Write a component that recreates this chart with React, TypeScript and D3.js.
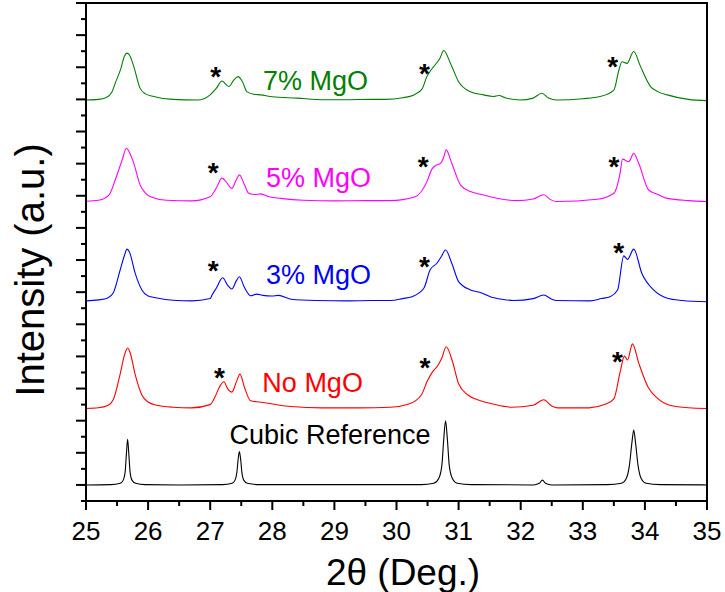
import * as d3 from 'd3';

const W = 725;
const H = 592;

// 2θ positions and intensities (a.u., stacked offsets included)
const cubicRef: [number, number][] = [
  [25.0, 0.0], [25.4, 0.01], [25.55, 0.05], [25.6, 0.15], [25.63, 0.4], [25.65, 0.95], [25.67, 1.42],
  [25.69, 0.95], [25.71, 0.4], [25.74, 0.15], [25.8, 0.05], [25.95, 0.01], [26.5, 0.0], [27.2, 0.01],
  [27.35, 0.05], [27.4, 0.15], [27.43, 0.4], [27.45, 0.8], [27.47, 1.04], [27.49, 0.8], [27.51, 0.4],
  [27.54, 0.15], [27.6, 0.05], [27.8, 0.01], [30.4, 0.01], [30.6, 0.05], [30.68, 0.2], [30.73, 0.6],
  [30.76, 1.4], [30.79, 2.0], [30.82, 1.4], [30.85, 0.6], [30.9, 0.2], [30.98, 0.05], [31.2, 0.01],
  [32.2, 0.0], [32.3, 0.05], [32.35, 0.15], [32.4, 0.05], [32.5, 0.0], [33.4, 0.01], [33.62, 0.05],
  [33.7, 0.2], [33.75, 0.6], [33.79, 1.3], [33.82, 1.71], [33.85, 1.3], [33.89, 0.6], [33.94, 0.2],
  [34.02, 0.05], [34.25, 0.01], [35.0, 0.0],
];

const noMgO: [number, number][] = [
  [25.0, 2.38], [25.2, 2.4], [25.35, 2.47], [25.44, 2.66], [25.55, 3.45], [25.62, 4.05], [25.67, 4.26],
  [25.71, 4.12], [25.79, 3.45], [25.9, 2.8], [26.0, 2.58], [26.14, 2.48], [26.4, 2.42], [26.7, 2.4],
  [27.0, 2.5], [27.08, 2.75], [27.15, 3.05], [27.22, 3.21], [27.28, 3.0], [27.35, 2.89], [27.42, 3.2],
  [27.48, 3.45], [27.55, 3.05], [27.65, 2.62], [27.8, 2.58], [28.0, 2.52], [28.3, 2.44], [28.8, 2.4],
  [29.4, 2.4], [29.9, 2.42], [30.2, 2.52], [30.4, 2.8], [30.5, 3.25], [30.58, 3.52], [30.66, 3.7],
  [30.73, 3.95], [30.8, 4.3], [30.9, 3.85], [31.0, 3.15], [31.15, 2.8], [31.35, 2.62], [31.55, 2.52],
  [31.85, 2.42], [32.2, 2.48], [32.37, 2.65], [32.5, 2.46], [32.6, 2.4], [33.1, 2.4], [33.35, 2.5],
  [33.5, 2.68], [33.6, 3.5], [33.67, 4.01], [33.72, 3.89], [33.8, 4.39], [33.9, 3.8], [34.05, 3.05],
  [34.2, 2.7], [34.4, 2.48], [34.7, 2.4], [35.0, 2.38],
];

const mgo3: [number, number][] = [
  [25.0, 5.73], [25.2, 5.76], [25.35, 5.82], [25.44, 5.98], [25.55, 6.69], [25.62, 7.15], [25.66, 7.34],
  [25.7, 7.25], [25.79, 6.6], [25.9, 6.07], [26.0, 5.88], [26.14, 5.82], [26.4, 5.75], [26.7, 5.73],
  [27.0, 5.8], [27.03, 5.91], [27.1, 6.13], [27.2, 6.45], [27.28, 6.22], [27.35, 6.1], [27.42, 6.35],
  [27.47, 6.48], [27.55, 6.15], [27.65, 5.89], [27.75, 5.94], [27.85, 5.9], [27.99, 5.88], [28.1, 5.9],
  [28.3, 5.78], [28.7, 5.74], [29.2, 5.73], [29.6, 5.74], [29.9, 5.74], [30.1, 5.8], [30.25, 5.86],
  [30.44, 6.12], [30.54, 6.69], [30.65, 6.9], [30.72, 7.1], [30.79, 7.31], [30.89, 6.9], [31.0, 6.33],
  [31.19, 6.07], [31.35, 5.99], [31.51, 5.86], [31.7, 5.78], [31.89, 5.74], [32.2, 5.8], [32.37, 5.91],
  [32.5, 5.78], [32.58, 5.74], [33.12, 5.73], [33.3, 5.8], [33.44, 5.86], [33.56, 6.07], [33.66, 7.13],
  [33.72, 7.02], [33.82, 7.34], [33.95, 6.59], [34.14, 6.07], [34.36, 5.81], [34.6, 5.74], [35.0, 5.7],
];

const mgo5: [number, number][] = [
  [25.0, 8.83], [25.2, 8.86], [25.3, 8.92], [25.39, 9.08], [25.47, 9.49], [25.58, 10.1], [25.65, 10.48],
  [25.7, 10.35], [25.77, 10.01], [25.87, 9.34], [25.95, 9.1], [26.04, 8.97], [26.3, 8.86], [26.7, 8.84],
  [27.0, 8.97], [27.1, 9.25], [27.19, 9.55], [27.25, 9.45], [27.35, 9.23], [27.42, 9.5], [27.47, 9.65],
  [27.55, 9.35], [27.62, 9.08], [27.72, 9.04], [27.81, 9.06], [27.95, 8.97], [28.13, 8.92], [28.5, 8.86],
  [29.0, 8.84], [29.5, 8.85], [29.9, 8.85], [30.3, 8.97], [30.49, 9.44], [30.57, 9.83], [30.64, 9.95],
  [30.71, 10.01], [30.76, 10.2], [30.8, 10.43], [30.89, 10.01], [31.03, 9.34], [31.19, 9.13], [31.35, 9.05],
  [31.51, 8.97], [31.94, 8.85], [32.2, 8.9], [32.37, 9.03], [32.48, 8.88], [32.58, 8.82], [33.23, 8.89],
  [33.5, 9.08], [33.6, 9.7], [33.64, 10.14], [33.74, 10.06], [33.82, 10.32], [33.9, 10.01], [34.06, 9.18],
  [34.2, 9.05], [34.36, 8.92], [34.7, 8.85], [35.0, 8.82],
];

const mgo7: [number, number][] = [
  [25.0, 11.98], [25.2, 12.0], [25.32, 12.05], [25.42, 12.24], [25.47, 12.5], [25.56, 12.95], [25.62, 13.35],
  [25.66, 13.44], [25.7, 13.38], [25.77, 13.02], [25.87, 12.35], [25.95, 12.18], [26.09, 12.09], [26.4, 12.0],
  [26.8, 11.98], [27.0, 12.14], [27.1, 12.35], [27.19, 12.57], [27.3, 12.4], [27.38, 12.6], [27.45, 12.71],
  [27.52, 12.55], [27.59, 12.24], [27.7, 12.16], [27.81, 12.14], [28.0, 12.08], [28.4, 12.04], [28.8, 11.99],
  [29.2, 11.99], [29.6, 12.0], [29.82, 12.0], [30.1, 12.05], [30.28, 12.14], [30.41, 12.32], [30.49, 12.71],
  [30.55, 12.9], [30.62, 13.07], [30.7, 13.28], [30.76, 13.52], [30.87, 13.12], [31.0, 12.55], [31.19, 12.24],
  [31.4, 12.14], [31.56, 12.09], [31.65, 12.12], [31.75, 12.05], [31.99, 11.98], [32.2, 12.04], [32.34, 12.19],
  [32.45, 12.04], [32.58, 11.98], [33.0, 12.02], [33.28, 12.09], [33.5, 12.29], [33.58, 12.9], [33.63, 13.17],
  [33.71, 13.12], [33.82, 13.49], [33.93, 13.02], [34.09, 12.4], [34.2, 12.25], [34.36, 12.14], [34.7, 12.0],
  [35.0, 11.96],
];

const seriesNames = ['Cubic Reference', 'No MgO', '3% MgO', '5% MgO', '7% MgO'];
const seriesColors = ['#000000', '#ff0000', '#0000ff', '#ff00ff', '#008000'];
const seriesData = [cubicRef, noMgO, mgo3, mgo5, mgo7];
// where each label starts: [2θ, intensity]
const labelPos: [number, number][] = [[27.31, 1.27], [27.84, 2.89], [27.9, 6.25], [27.9, 9.27], [27.85, 12.29]];

// "*" marks over the impurity reflections
const starMarks: [number, number][] = [
  [27.15, 3.52], [30.46, 3.83], [33.56, 4.01],
  [27.05, 6.85], [30.45, 6.97], [33.58, 7.42],
  [27.05, 9.91], [30.43, 10.09], [33.5, 10.09],
  [27.09, 12.89], [30.45, 12.97], [33.48, 13.21],
];

const xTicks = [25, 26, 27, 28, 29, 30, 31, 32, 33, 34, 35];

export default function App() {
  const margin = { top: 3, right: 18, bottom: 91, left: 86 };
  const x = d3.scaleLinear().domain([25, 35]).range([margin.left, W - margin.right]);
  const y = d3.scaleLinear().domain([-0.5, 15]).range([H - margin.bottom, margin.top]);
  const line = d3
    .line<[number, number]>()
    .curve(d3.curveMonotoneX)
    .x((d) => x(d[0]))
    .y((d) => y(d[1]));

  const x0 = x.range()[0];
  const x1 = x.range()[1];
  const y0 = y.range()[0];
  const y1 = y.range()[1];
  const font = 'Arial, "Liberation Sans", sans-serif';

  const xMinor = d3.range(25.5, 35, 1);
  const yTicks = d3.range(-0.5, 15.01, 0.5);

  return (
    <svg
      width={W}
      height={H}
      style={{ position: 'absolute', left: 0, top: 0, background: '#fff' }}
      fontFamily={font}
    >
      {seriesData.map((d, i) => (
        <path key={seriesNames[i]} d={line(d) ?? ''} fill="none" stroke={seriesColors[i]} strokeWidth={1.1} />
      ))}

      {seriesNames.map((name, i) => (
        <text key={name} x={x(labelPos[i][0])} y={y(labelPos[i][1])} fontSize={27} fill={seriesColors[i]}>
          {name}
        </text>
      ))}

      {starMarks.map((s, i) => (
        <text key={i} x={x(s[0])} y={y(s[1]) + 15} fontSize={28} fontWeight={700} textAnchor="middle" fill="#000">
          *
        </text>
      ))}

      {/* frame */}
      <rect x={x0} y={y1} width={x1 - x0} height={y0 - y1} fill="none" stroke="#000" strokeWidth={2} />

      {/* bottom axis */}
      {xTicks.map((t) => (
        <g key={t}>
          <line x1={x(t)} x2={x(t)} y1={y0} y2={y0 + 9} stroke="#000" strokeWidth={2} />
          <text x={x(t)} y={y0 + 39} fontSize={26} textAnchor="middle" fill="#000">
            {t}
          </text>
        </g>
      ))}
      {xMinor.map((t) => (
        <line key={t} x1={x(t)} x2={x(t)} y1={y0} y2={y0 + 5} stroke="#000" strokeWidth={2} />
      ))}

      {/* left axis, unlabeled */}
      {yTicks.map((t) => (
        <line
          key={t}
          x1={x0}
          x2={x0 - (Number.isInteger(t) ? 10 : 5)}
          y1={y(t)}
          y2={y(t)}
          stroke="#000"
          strokeWidth={2}
        />
      ))}

      <text x={403} y={585} fontSize={37} textAnchor="middle" fill="#000">
        2θ (Deg.)
      </text>
      <text transform="translate(44,270) rotate(-90)" fontSize={40} textAnchor="middle" fill="#000">
        Intensity (a.u.)
      </text>
    </svg>
  );
}
